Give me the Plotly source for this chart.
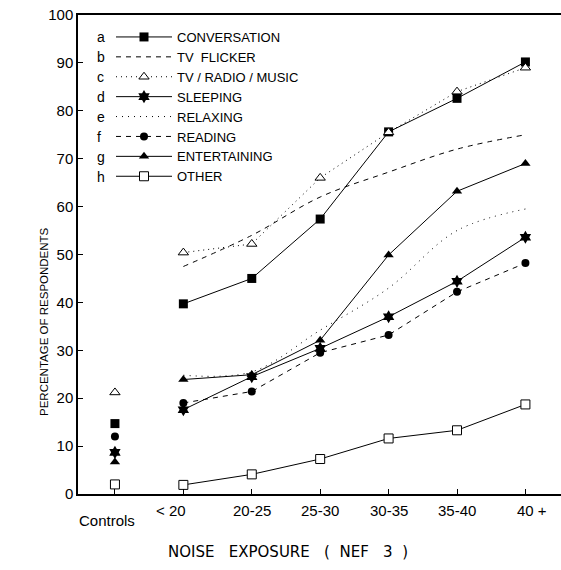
import plotly.graph_objects as go

categories = ["Controls", "< 20", "20-25", "25-30", "30-35", "35-40", "40 +"]
exposure_x = [1, 2, 3, 4, 5, 6]

letters = ["a", "b", "c", "d", "e", "f", "g", "h"]
names = ["CONVERSATION", "TV  FLICKER", "TV / RADIO / MUSIC", "SLEEPING",
         "RELAXING", "READING", "ENTERTAINING", "OTHER"]

conversation = [39.7, 45.0, 57.4, 75.6, 82.6, 90.2]
tv_flicker = [47.5, 54.0, 62.0, 67.2, 72.0, 75.0]
tv_radio_music = [50.4, 52.2, 66.0, 75.5, 84.0, 89.0]
sleeping = [17.6, 24.5, 30.4, 37.0, 44.4, 53.6]
relaxing = [24.8, 25.5, 34.2, 43.0, 55.0, 59.5]
reading = [19.0, 21.4, 29.5, 33.2, 42.2, 48.2]
entertaining = [23.9, 24.9, 32.1, 49.9, 63.2, 69.0]
other = [1.9, 4.1, 7.3, 11.6, 13.3, 18.7]

controls = {"CONVERSATION": 14.7, "TV / RADIO / MUSIC": 21.2, "SLEEPING": 8.7,
            "READING": 12.0, "ENTERTAINING": 6.7, "OTHER": 2.0}

yticks = [0, 10, 20, 30, 40, 50, 60, 70, 80, 90, 100]

series = [
    (names[0], conversation, dict(symbol="square", size=9, color="black"), dict(dash="solid"), "linear"),
    (names[1], tv_flicker, None, dict(dash="5px,5px"), "spline"),
    (names[2], tv_radio_music, dict(symbol="triangle-up", size=9, color="white", line=dict(color="black", width=1)), dict(dash="1px,4px"), "linear"),
    (names[3], sleeping, dict(symbol="hexagram", size=10, color="black"), dict(dash="solid"), "linear"),
    (names[4], relaxing, None, dict(dash="1px,5px"), "spline"),
    (names[5], reading, dict(symbol="circle", size=8, color="black"), dict(dash="5px,5px"), "linear"),
    (names[6], entertaining, dict(symbol="triangle-up", size=9, color="black"), dict(dash="solid"), "linear"),
    (names[7], other, dict(symbol="square", size=9, color="white", line=dict(color="black", width=1)), dict(dash="solid"), "linear"),
]

fig = go.Figure()
for name, vals, marker, line, shape in series:
    mode = "lines+markers" if marker else "lines"
    fig.add_trace(go.Scatter(
        x=exposure_x, y=vals, name=name, mode=mode,
        line=dict(color="black", width=1, shape=shape, **line),
        marker=marker if marker else None,
    ))
for name, vals, marker, line, shape in series:
    if name in controls:
        fig.add_trace(go.Scatter(
            x=[0], y=[controls[name]], mode="markers", marker=marker, showlegend=False,
        ))

FONT = "Liberation Sans"
LEG_STEP = 20
LEG_TOP = 37

annotations = []
# x tick labels
label_shift = {"Controls": (-8, -26), "< 20": (-12, -16), "40 +": (7, -16)}
for i, c in enumerate(categories):
    xs, ys = label_shift.get(c, (0, -16))
    annotations.append(dict(x=i, y=0, xref="x", yref="paper", text=c, showarrow=False,
                            yanchor="middle", xshift=xs, yshift=ys,
                            font=dict(size=15, color="black", family=FONT)))
# legend letters
for i, l in enumerate(letters):
    annotations.append(dict(x=17 / 483, y=(494 - LEG_TOP - LEG_STEP * i) / 479, xref="paper", yref="paper",
                            text=l, showarrow=False, yanchor="middle",
                            font=dict(size=14, color="black", family=FONT)))
annotations.append(dict(x=(288 - 78) / 483, y=0, xref="paper", yref="paper", yshift=-58,
                        yanchor="middle",
                        text="NOISE   EXPOSURE   (  NEF   3  )", showarrow=False,
                        font=dict(size=15, color="black", family="DejaVu Sans")))
annotations.append(dict(x=(36 - 78) / 483, y=(494 - 322) / 479, xref="paper", yref="paper",
                        text="PERCENTAGE OF RESPONDENTS", textangle=-90, showarrow=False,
                        font=dict(size=11.5, color="black", family=FONT)))

fig.update_layout(
    width=561, height=570,
    margin=dict(l=78, r=0, t=15, b=76),
    paper_bgcolor="white", plot_bgcolor="white",
    font=dict(family=FONT, color="black", size=14),
    showlegend=True,
    legend=dict(x=(111 - 78) / 483, y=(494 - 22) / 479, xanchor="left", yanchor="top",
                bgcolor="rgba(0,0,0,0)", font=dict(size=13, family=FONT),
                itemwidth=56, tracegroupgap=0),
    annotations=annotations,
)
fig.update_xaxes(range=[-0.54, 6.52], showgrid=False, zeroline=False,
                 showline=True, linecolor="black", linewidth=1.5, mirror=True,
                 tickvals=list(range(7)), ticks="inside", ticklen=5, tickcolor="black",
                 showticklabels=False)
fig.update_yaxes(range=[0, 100], showgrid=False, zeroline=False,
                 showline=True, linecolor="black", linewidth=1.5, mirror=False,
                 tickvals=yticks, ticks="inside", ticklen=5, tickcolor="black",
                 tickfont=dict(size=15, family=FONT))

fig.write_html("out.html")
